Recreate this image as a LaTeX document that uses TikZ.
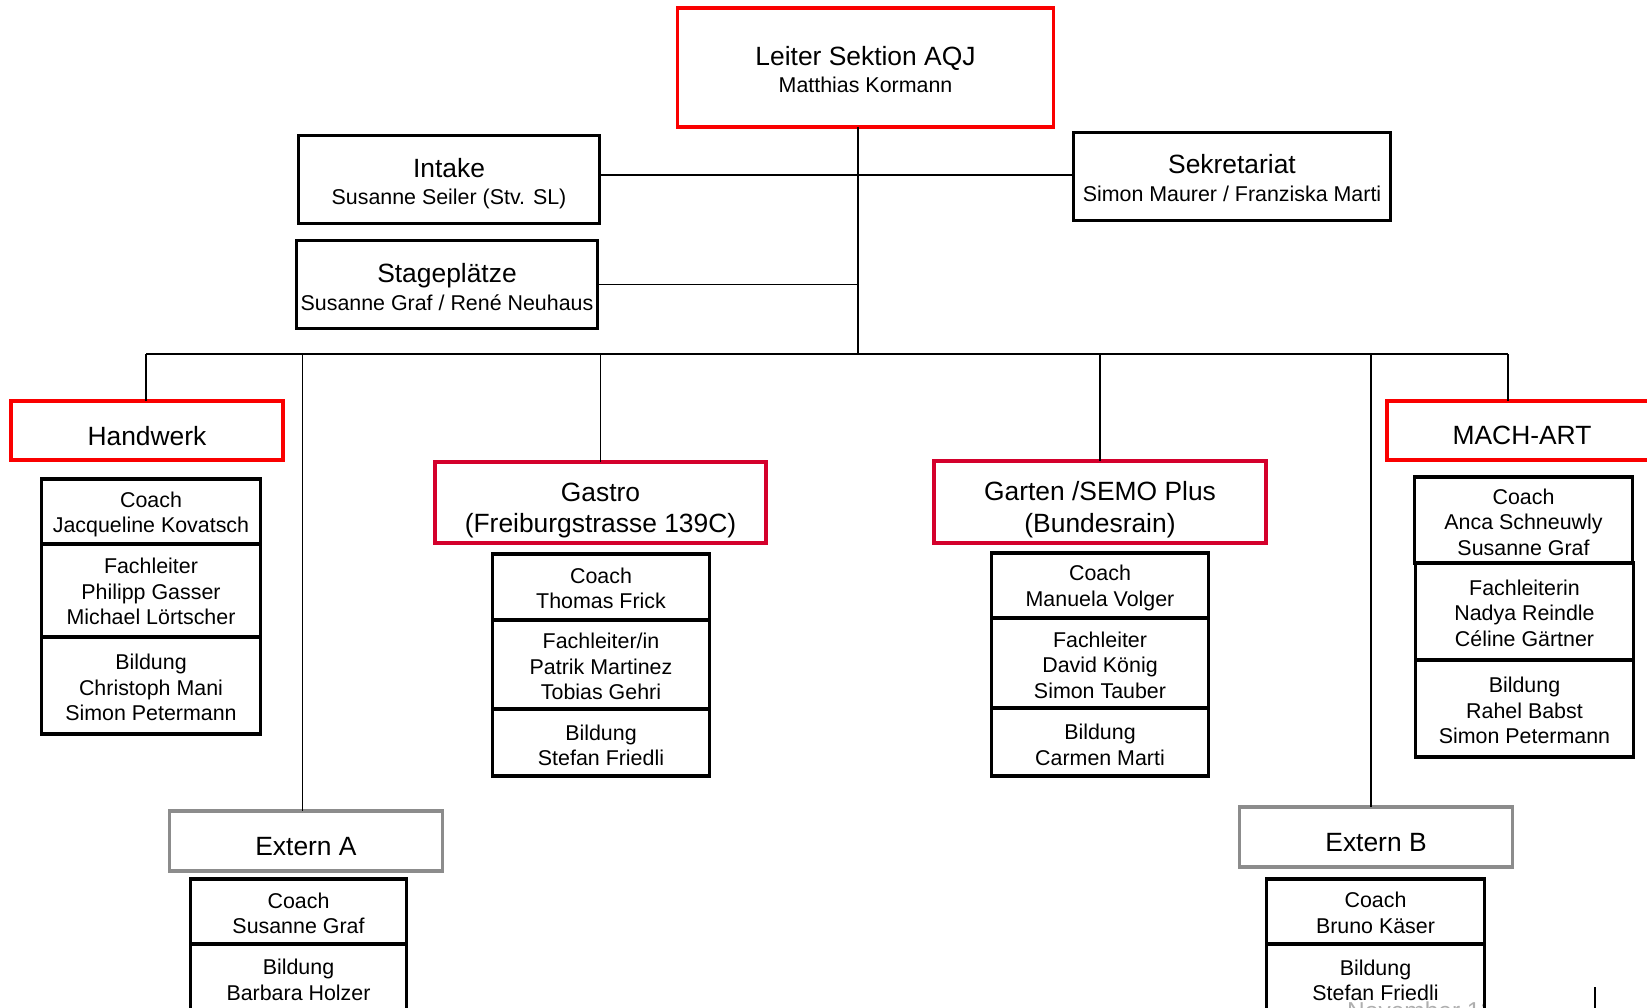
\documentclass[tikz,border=0pt]{standalone}
\usepackage{fontspec}
\setmainfont{Liberation Sans}
\newcommand\bigf{\fontsize{26.4}{31.5}\selectfont}
\newcommand\smf{\fontsize{21.4}{25.5}\selectfont}
\definecolor{redA}{RGB}{250,0,0}
\definecolor{redB}{RGB}{212,0,44}
\definecolor{grayB}{RGB}{140,140,140}
\definecolor{novgray}{RGB}{175,175,175}
\tikzset{
  box/.style={draw, inner sep=0pt, outer sep=0pt, line width=3.5pt},
  blk/.style={box, draw=black},
  redbox/.style={box, draw=redA},
  crimbox/.style={box, draw=redB},
  graybox/.style={box, draw=grayB},
  conn/.style={draw=black, line width=1.7pt},
  lbl/.style={font=\smf, align=center, inner sep=0pt},
  tx/.style 2 args={label={[lbl, yshift=-#1pt]center:{#2}}},
  bx/.style 2 args={label={[lbl, font=\bigf, yshift=-#1pt]center:{#2}}},
}
\begin{document}
\begin{tikzpicture}[x=1pt,y=-1pt]
\useasboundingbox (0,0) rectangle (1647,1007);

% footer text (partly hidden)
\begin{scope}
\clip (1300,990) rectangle (1484,1007);
\node[anchor=base west, inner sep=0pt, text=novgray, font=\fontsize{24.5}{28}\selectfont] (nov) at (1347,1019.5) {November 12};
\end{scope}

% top
\node[redbox, minimum width=376pt, minimum height=119pt, tx={2}{{\bigf Leiter Sektion AQJ}\\[2pt]Matthias Kormann}] (leiter) at (865.5,67.5) {};
\node[blk, minimum width=301pt, minimum height=88pt, tx={4}{{\bigf Intake}\\[2pt]Susanne Seiler (Stv. SL)}] (intake) at (449,179.5) {};
\node[blk, minimum width=301pt, minimum height=88pt, tx={2.5}{{\bigf Stageplätze}\\[2pt]Susanne Graf / René Neuhaus}] (stage) at (447,284.5) {};
\node[blk, minimum width=317pt, minimum height=88pt, tx={1.5}{{\bigf Sekretariat}\\[2pt]Simon Maurer / Franziska Marti}] (sek) at (1232,176.5) {};

% Handwerk
\node[redbox, minimum width=272pt, minimum height=59pt, bx={5.3}{Handwerk}] (hw) at (147,430.5) {};
\node[blk, minimum width=219pt, minimum height=65pt, tx={3}{Coach\\Jacqueline Kovatsch}] (hw1) at (151,511.5) {};
\node[blk, minimum width=219pt, minimum height=93pt, tx={1}{Fachleiter\\Philipp Gasser\\Michael Lörtscher}] (hw2) at (151,590.5) {};
\node[blk, minimum width=219pt, minimum height=97pt, tx={2}{Bildung\\Christoph Mani\\Simon Petermann}] (hw3) at (151,685.5) {};

% Gastro
\node[crimbox, minimum width=331pt, minimum height=81pt, bx={8}{Gastro\\(Freiburgstrasse 139C)}] (gastro) at (600.5,502.5) {};
\node[blk, minimum width=217pt, minimum height=66pt, tx={1.5}{Coach\\Thomas Frick}] (g1) at (601,587) {};
\node[blk, minimum width=217pt, minimum height=89pt, tx={2}{Fachleiter/in\\Patrik Martinez\\Tobias Gehri}] (g2) at (601,664.5) {};
\node[blk, minimum width=217pt, minimum height=67pt, tx={3}{Bildung\\Stefan Friedli}] (g3) at (601,742.5) {};

% Garten
\node[crimbox, minimum width=332pt, minimum height=82pt, bx={7.5}{Garten /SEMO Plus\\(Bundesrain)}] (garten) at (1100,502) {};
\node[blk, minimum width=217pt, minimum height=65pt, tx={2.5}{Coach\\Manuela Volger}] (t1) at (1100,585.5) {};
\node[blk, minimum width=217pt, minimum height=90pt, tx={2}{Fachleiter\\David König\\Simon Tauber}] (t2) at (1100,663) {};
\node[blk, minimum width=217pt, minimum height=68pt, tx={3}{Bildung\\Carmen Marti}] (t3) at (1100,742) {};

% MACH-ART
\node[redbox, minimum width=270pt, minimum height=59pt, bx={5.3}{MACH-ART}] (mach) at (1522,430.5) {};
\node[blk, minimum width=218pt, minimum height=86pt, tx={2}{Coach\\Anca Schneuwly\\Susanne Graf}] (m1) at (1523.5,520) {};
\node[blk, minimum width=218pt, minimum height=97pt, tx={1.5}{Fachleiterin\\Nadya Reindle\\Céline Gärtner}] (m2) at (1524.5,611.5) {};
\node[blk, minimum width=218pt, minimum height=97pt, tx={2}{Bildung\\Rahel Babst\\Simon Petermann}] (m3) at (1524.5,708.5) {};

% Extern A
\node[graybox, minimum width=273pt, minimum height=60pt, bx={5.3}{Extern A}] (exta) at (306,841) {};
\node[blk, minimum width=216pt, minimum height=65pt, tx={2}{Coach\\Susanne Graf}] (ea1) at (298.5,911.5) {};
\node[blk, minimum width=216pt, minimum height=69pt, tx={1.5}{Bildung\\Barbara Holzer}] (ea2) at (298.5,978.5) {};

% Extern B
\node[graybox, minimum width=273pt, minimum height=60pt, bx={5.3}{Extern B}] (extb) at (1376,837) {};
\node[blk, minimum width=218pt, minimum height=65pt, tx={1.5}{Coach\\Bruno Käser}] (eb1) at (1375.5,911.5) {};
\node[blk, minimum width=218pt, minimum height=69pt, tx={2}{Bildung\\Stefan Friedli}] (eb2) at (1375.5,978.5) {};

% connectors
\coordinate (bus) at (858,354);
\coordinate (isy) at (0,175);
\coordinate (busL) at (146,354);
\coordinate (busR) at (1508,354);
\coordinate (dA) at (302.5,354);
\coordinate (dB) at (1371,354);
\draw[conn] (leiter.south -| bus) -- (bus);
\draw[conn] (intake.east |- isy) -- (sek.west |- isy);
\draw[conn] (stage.east) -- (stage.east -| bus);
\draw[conn] (busL) -- (busR);
\draw[conn] (busL) -- (hw.north -| busL);
\draw[conn] (dA) -- (exta.north -| dA);
\draw[conn] (gastro.north |- bus) -- (gastro.north);
\draw[conn] (garten.north |- bus) -- (garten.north);
\draw[conn] (dB) -- (extb.north -| dB);
\draw[conn] (busR) -- (mach.north -| busR);

% edge mark bottom right
\coordinate (vl) at (1595,987);
\draw[line width=2.5pt] (vl) -- ++(0,25);
\end{tikzpicture}
\end{document}
